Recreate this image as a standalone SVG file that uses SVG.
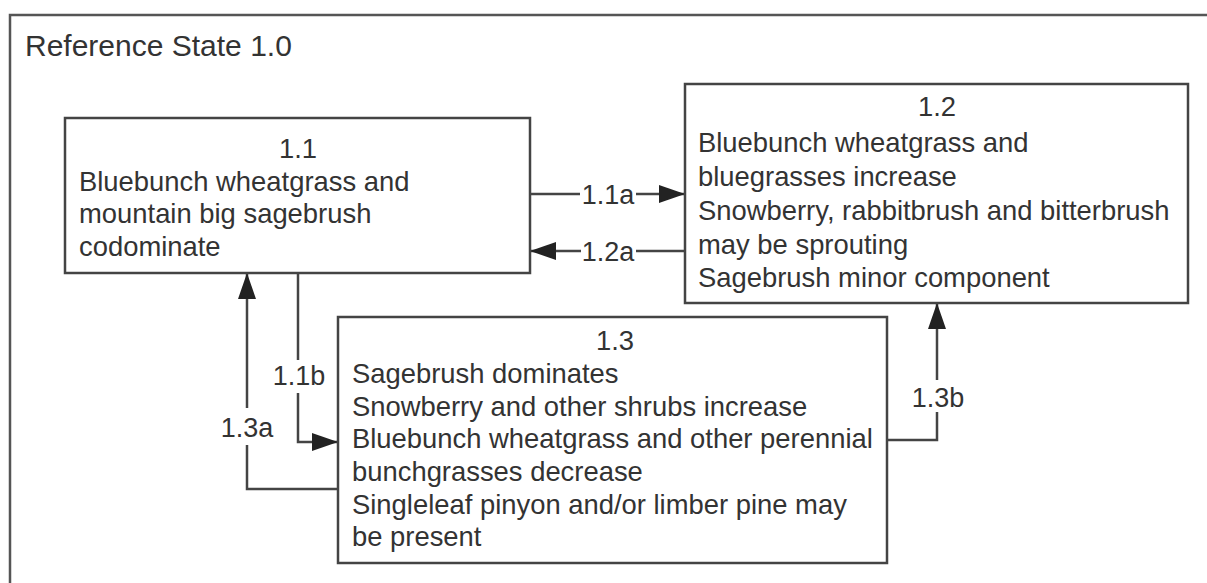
<svg xmlns="http://www.w3.org/2000/svg" width="1207" height="583" viewBox="0 0 1207 583">
<style>
text{font-family:"Liberation Sans",Arial,sans-serif;fill:#333;}
.t{font-size:27.4px;}
.title{font-size:30px;}
.lbl{font-size:27px;}
.box{fill:#fff;stroke:#444;stroke-width:2.5;}
.frame{fill:none;stroke:#555;stroke-width:2.5;}
.c{fill:none;stroke:#444;stroke-width:2.5;}
</style>
<defs>
<marker id="ah" viewBox="0 0 26 18" refX="26" refY="9" markerWidth="26" markerHeight="18" markerUnits="userSpaceOnUse" orient="auto">
<path d="M0,0 L26,9 L0,18 z" fill="#222"/>
</marker>
</defs>
<rect width="1207" height="583" fill="#fff"/>
<g id="frame">
<path class="frame" d="M10,583 V15 H1207"/>
<text class="title" x="25" y="56">Reference State 1.0</text>
</g>
<g id="connectors">
<path class="c" d="M530,194 H580"/>
<path class="c" d="M636,194 H685" marker-end="url(#ah)"/>
<text class="lbl" x="608" y="204" text-anchor="middle">1.1a</text>
<path class="c" d="M685,251 H636"/>
<path class="c" d="M581,251 H530" marker-end="url(#ah)"/>
<text class="lbl" x="608" y="261" text-anchor="middle">1.2a</text>
<path class="c" d="M298,273 V360"/>
<path class="c" d="M298,393 V442 H338" marker-end="url(#ah)"/>
<text class="lbl" x="299" y="385" text-anchor="middle">1.1b</text>
<path class="c" d="M338,489 H247 V445"/>
<path class="c" d="M247,408 V273" marker-end="url(#ah)"/>
<text class="lbl" x="247" y="437" text-anchor="middle">1.3a</text>
<path class="c" d="M887,440 H937 V412"/>
<path class="c" d="M937,380 V303" marker-end="url(#ah)"/>
<text class="lbl" x="938" y="407" text-anchor="middle">1.3b</text>
</g>
<g id="node-1-1">
<rect class="box" x="65" y="118" width="465" height="155"/>
<text class="t" x="298" y="158" text-anchor="middle">1.1</text>
<text class="t" x="79" y="191">Bluebunch wheatgrass and</text>
<text class="t" x="79" y="223">mountain big sagebrush</text>
<text class="t" x="79" y="256">codominate</text>
</g>
<g id="node-1-2">
<rect class="box" x="685" y="84" width="503" height="219"/>
<text class="t" x="937" y="116" text-anchor="middle">1.2</text>
<text class="t" x="698" y="152">Bluebunch wheatgrass and</text>
<text class="t" x="698" y="186">bluegrasses increase</text>
<text class="t" x="698" y="220">Snowberry, rabbitbrush and bitterbrush</text>
<text class="t" x="698" y="254">may be sprouting</text>
<text class="t" x="698" y="287">Sagebrush minor component</text>
</g>
<g id="node-1-3">
<rect class="box" x="338" y="317" width="549" height="246"/>
<text class="t" x="615" y="350" text-anchor="middle">1.3</text>
<text class="t" x="352" y="383">Sagebrush dominates</text>
<text class="t" x="352" y="416">Snowberry and other shrubs increase</text>
<text class="t" x="352" y="448">Bluebunch wheatgrass and other perennial</text>
<text class="t" x="352" y="481">bunchgrasses decrease</text>
<text class="t" x="352" y="514">Singleleaf pinyon and/or limber pine may</text>
<text class="t" x="352" y="546">be present</text>
</g>
</svg>
